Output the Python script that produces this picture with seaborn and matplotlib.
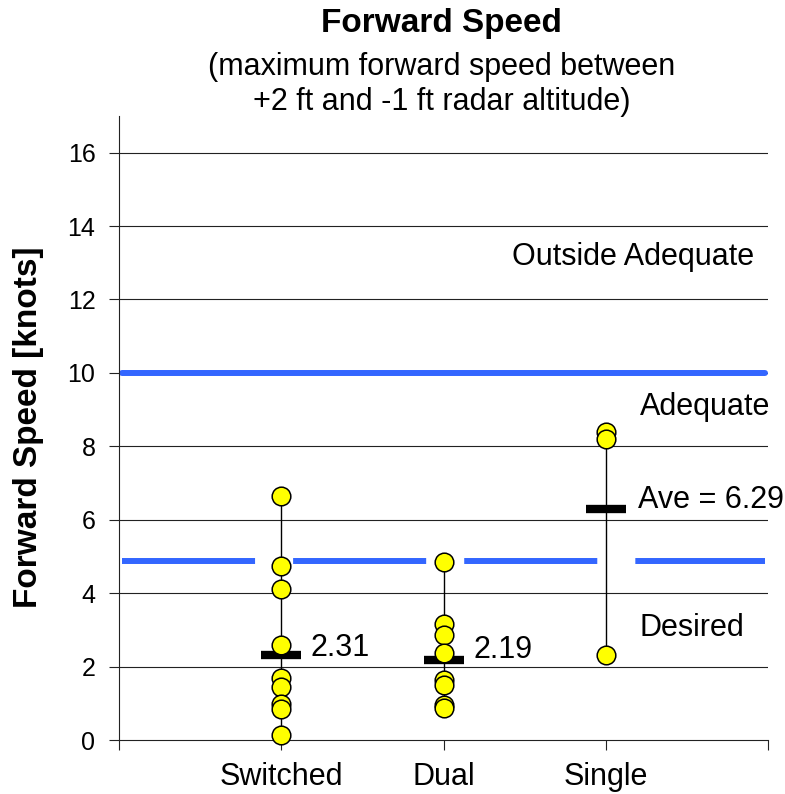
import matplotlib
matplotlib.use("Agg")
import matplotlib.pyplot as plt
import seaborn as sns
import pandas as pd

# values
categories = ["Switched", "Dual", "Single"]
switched_speed = [6.65, 4.74, 4.12, 2.58, 1.68, 1.45, 0.98, 0.85, 0.13]
dual_speed = [4.84, 3.17, 2.86, 2.36, 1.63, 1.50, 0.95, 0.87]
single_speed = [8.39, 8.21, 2.31]
ave_speed = [2.31, 2.19, 6.29]
ave_labels = ["2.31", "2.19", "Ave = 6.29"]
adequate_limit = 10.0
desired_limit = 4.87
y_ticks = [0, 2, 4, 6, 8, 10, 12, 14, 16]

blue = "#3366ff"

sns.set_theme(style="white")
plt.rcParams["font.family"] = ["Liberation Sans", "DejaVu Sans"]
plt.rcParams["lines.scale_dashes"] = False
for k in ["text.color", "axes.labelcolor", "xtick.color", "ytick.color"]:
    plt.rcParams[k] = "black"

rows = []
for cat, vals in zip(categories, [switched_speed, dual_speed, single_speed]):
    for v in vals:
        rows.append({"config": cat, "speed": v})
df = pd.DataFrame(rows)
pos = {c: i + 1 for i, c in enumerate(categories)}
df["pos"] = df["config"].map(pos)

fig = plt.figure(figsize=(7.85, 7.94), dpi=100)
ax = fig.add_axes([0.1516, 0.068, 0.8268, 0.786])

ax.set_xlim(0, 4)
ax.set_ylim(0, 17)

# grid lines
for t in y_ticks[1:]:
    ax.axhline(t, color="#222222", lw=0.8, zorder=1)

# boundaries
ax.axhline(adequate_limit, xmin=0.005, xmax=0.995, color=blue, lw=4.3, zorder=2)
ax.axhline(desired_limit, xmin=0.005, xmax=0.995, color=blue, lw=4.3,
           dashes=(95.8, 27.4), zorder=2)

# range lines
rng = df.groupby("pos")["speed"].agg(["min", "max"])
ax.vlines(rng.index, rng["min"], rng["max"], color="black", lw=1.0, zorder=3)

# averages
ax.plot([pos[c] for c in categories], ave_speed, ls="none", marker="_",
        markersize=29, markeredgewidth=6, color="black", zorder=4)

sns.scatterplot(data=df, x="pos", y="speed", ax=ax, s=180, color="#ffff00",
                edgecolor="black", linewidth=1.1, zorder=5, clip_on=False)

# labels
fs = 22
ax.text(1.18, 2.50, ave_labels[0], fontsize=fs, va="center", ha="left")
ax.text(2.185, 2.45, ave_labels[1], fontsize=fs, va="center", ha="left")
ax.text(3.2, 6.53, ave_labels[2], fontsize=fs, va="center", ha="left")
ax.text(3.167, 13.17, "Outside Adequate", fontsize=fs, ha="center", va="center")
ax.text(3.21, 9.06, "Adequate", fontsize=fs, ha="left", va="center")
ax.text(3.21, 3.05, "Desired", fontsize=fs, ha="left", va="center")

ax.set_yticks(y_ticks)
ax.set_yticklabels([str(t) for t in y_ticks], fontsize=18)
ax.set_xticks([0, 1, 2, 3, 4])
ax.set_xticklabels([""] + categories + [""], fontsize=fs)
ax.tick_params(axis="y", direction="out", length=7, width=0.8, color="#222222",
               pad=10, left=True)
ax.tick_params(axis="x", direction="out", length=7, width=0.8, color="#222222",
               pad=9, bottom=True)

for s in ["top", "right"]:
    ax.spines[s].set_visible(False)
for s in ["left", "bottom"]:
    ax.spines[s].set_color("#222222")
    ax.spines[s].set_linewidth(0.8)

ax.set_xlabel("")
ax.set_ylabel("")
fig.text(0.036, 0.462, "Forward Speed [knots]", rotation=90, ha="center",
         va="center", fontsize=24, fontweight="bold")

fig.text(0.5625, 0.970, "Forward Speed", ha="center", va="center", fontsize=24,
         fontweight="bold")
fig.text(0.5625, 0.915, "(maximum forward speed between", ha="center", va="center",
         fontsize=fs)
fig.text(0.5625, 0.871, "+2 ft and -1 ft radar altitude)", ha="center", va="center",
         fontsize=fs)

fig.savefig("out.png", dpi=100)
plt.close(fig)
